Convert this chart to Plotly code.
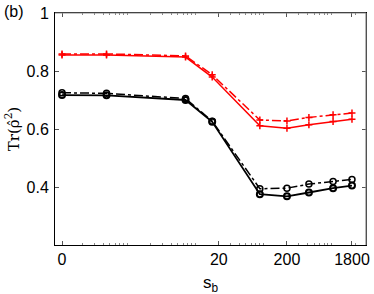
import plotly.graph_objects as go

# x positions (s_b; the "0" point is drawn at 0.1 on the log axis)
sb = [0.1, 0.45, 6.5, 16, 80, 200, 420, 950, 1800]
red_solid = [0.855, 0.855, 0.848, 0.779, 0.611, 0.603, 0.615, 0.626, 0.634]
red_dash = [0.859, 0.859, 0.852, 0.787, 0.631, 0.628, 0.640, 0.649, 0.655]
black_solid = [0.717, 0.716, 0.700, 0.625, 0.375, 0.368, 0.381, 0.396, 0.405]
black_dash = [0.725, 0.723, 0.705, 0.627, 0.394, 0.396, 0.410, 0.419, 0.426]

x_tickvals = [0.1, 20, 200, 1800]
x_ticktext = ["0", "20", "200", "1800"]
y_tickvals = [0.4, 0.6, 0.8, 1.0]
y_ticktext = ["0.4", "0.6", "0.8", "1"]

minor_vals = [m * 10 ** e for e in range(-1, 4) for m in range(2, 10)]

fig = go.Figure()
fig.add_trace(go.Scatter(x=sb, y=black_dash, mode="lines+markers",
                         line=dict(color="black", width=1.5, dash="dashdot"),
                         marker=dict(symbol="circle-open", size=6, color="black", line=dict(width=1.5))))
fig.add_trace(go.Scatter(x=sb, y=black_solid, mode="lines+markers",
                         line=dict(color="black", width=1.8),
                         marker=dict(symbol="circle-open", size=6, color="black", line=dict(width=2))))
fig.add_trace(go.Scatter(x=sb, y=red_dash, mode="lines+markers",
                         line=dict(color="red", width=1.5, dash="dashdot"),
                         marker=dict(symbol="cross-thin-open", size=5, color="red", line=dict(width=1.5, color="red"))))
fig.add_trace(go.Scatter(x=sb, y=red_solid, mode="lines+markers",
                         line=dict(color="red", width=1.5),
                         marker=dict(symbol="cross-thin-open", size=5, color="red", line=dict(width=1.5, color="red"))))

font = "Liberation Sans, Arial, sans-serif"
fig.update_layout(
    width=374, height=294,
    margin=dict(l=55, r=8, t=13, b=49),
    paper_bgcolor="white", plot_bgcolor="white",
    showlegend=False,
    font=dict(family=font, size=16, color="black"),
    xaxis=dict(type="log", range=[-1.103, 3.461], automargin=False,
               tickmode="array", tickvals=x_tickvals, ticktext=x_ticktext,
               ticks="inside", ticklen=4, tickcolor="#555", showgrid=False, zeroline=False,
               showline=True, linecolor="black", linewidth=1, mirror="ticks",
               ticklabeloverflow="allow",
               minor=dict(tickmode="array", tickvals=minor_vals, ticks="inside", ticklen=2, tickcolor="#888")),
    yaxis=dict(range=[0.2, 1.0], tickmode="array", tickvals=y_tickvals, ticktext=y_ticktext,
               automargin=False,
               ticks="inside", ticklen=4, tickcolor="#555", showgrid=False, zeroline=False,
               showline=True, linecolor="black", linewidth=1, mirror="ticks",
               ticklabelstandoff=2,
               title=dict(text="Tr(ρ̂<sup>2</sup>)", font=dict(family="DejaVu Serif, serif", size=15), standoff=3)),
    shapes=[
        dict(type="line", xref="paper", yref="paper", x0=0, x1=1, y0=1, y1=1,
             line=dict(color="#888", width=1.2), layer="above"),
        dict(type="line", xref="paper", yref="paper", x0=1, x1=1, y0=0, y1=1,
             line=dict(color="#888", width=1.2), layer="above"),
    ],
    annotations=[
        dict(text="(b)", xref="paper", yref="paper", x=-0.172, y=1.005,
             xanchor="left", yanchor="middle", showarrow=False, font=dict(size=16)),
        dict(text="s<sub>b</sub>", xref="paper", yref="paper", x=0.5, y=-0.11,
             xanchor="center", yanchor="top", showarrow=False, font=dict(size=17)),
    ],
)

fig.write_html("out.html", config={"displayModeBar": False},
               post_script="document.body.style.margin='0';")
